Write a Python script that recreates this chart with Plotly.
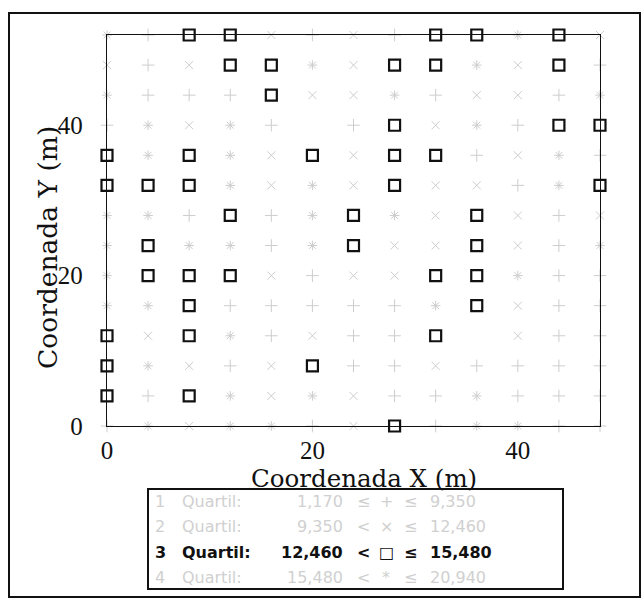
import plotly.graph_objects as go

# Sampling grid (m)
x_coords = [0, 4, 8, 12, 16, 20, 24, 28, 32, 36, 40, 44, 48]
y_coords = [52, 48, 44, 40, 36, 32, 28, 24, 20, 16, 12, 8, 4, 0]

# Quartile class of each sample, one row per y (north to south); 0 = no sample
quartile_rows = [
    [4, 1, 3, 3, 2, 1, 2, 1, 3, 3, 4, 3, 2],  # y = 52
    [2, 1, 2, 3, 3, 4, 2, 3, 3, 4, 2, 3, 1],  # y = 48
    [4, 1, 1, 1, 3, 2, 2, 4, 1, 2, 2, 1, 4],  # y = 44
    [1, 4, 2, 4, 1, 0, 1, 3, 2, 4, 1, 3, 3],  # y = 40
    [3, 4, 3, 4, 2, 3, 2, 3, 3, 1, 2, 4, 1],  # y = 36
    [3, 3, 3, 4, 2, 4, 2, 3, 2, 2, 1, 4, 3],  # y = 32
    [4, 4, 1, 3, 1, 4, 3, 4, 2, 3, 2, 1, 2],  # y = 28
    [4, 3, 4, 4, 1, 4, 3, 2, 2, 3, 2, 1, 4],  # y = 24
    [4, 3, 3, 3, 2, 1, 2, 2, 3, 3, 4, 1, 1],  # y = 20
    [4, 4, 3, 1, 1, 1, 1, 1, 4, 3, 2, 1, 1],  # y = 16
    [3, 2, 3, 4, 1, 2, 1, 1, 3, 0, 2, 1, 1],  # y = 12
    [3, 4, 2, 1, 2, 3, 1, 1, 2, 1, 1, 1, 1],  # y = 8
    [3, 1, 3, 4, 2, 4, 2, 1, 1, 4, 1, 1, 1],  # y = 4
    [1, 4, 2, 4, 4, 1, 2, 3, 1, 4, 4, 1, 1],  # y = 0
]

# Class limits and legend text
quartile_ids = [1, 2, 3, 4]
quartile_names = ["Quartil:", "Quartil:", "Quartil:", "Quartil:"]
lower_limits = ["1,170", "9,350", "12,460", "15,480"]
upper_limits = ["9,350", "12,460", "15,480", "20,940"]
lower_ops = ["\u2264", "<", "<", "<"]
legend_glyphs = ["+", "\u00d7", "\u25a1", "*"]

FAINT = "#cdcdcd"
symbols = {1: "cross-thin-open", 2: "x-thin-open", 3: "square-open", 4: "asterisk-open"}
colors = {1: FAINT, 2: FAINT, 3: "#111111", 4: FAINT}
sizes = {1: 9, 2: 8, 3: 11, 4: 8}
widths = {1: 1, 2: 1, 3: 2.2, 4: 1}

fig = go.Figure()
for q in quartile_ids:
    xs, ys = [], []
    for yi, row in zip(y_coords, quartile_rows):
        for xi, cls in zip(x_coords, row):
            if cls == q:
                xs.append(xi)
                ys.append(yi)
    fig.add_trace(go.Scatter(
        x=xs, y=ys, mode="markers", cliponaxis=False, showlegend=False,
        marker=dict(symbol=symbols[q], size=sizes[q], color=colors[q],
                    line=dict(color=colors[q], width=widths[q])),
    ))

W, H = 644, 599
L, R, T, B = 107, 600, 35, 426


def px(x):
    return (x - L) / (R - L)


def py(y):
    return (B - y) / (B - T)


tick_serif = "Liberation Serif, Times New Roman, serif"
title_serif = "DejaVu Serif, Liberation Serif, serif"
sans = "DejaVu Sans, Verdana, sans-serif"

axis_common = dict(
    showgrid=False, zeroline=False, showline=True, linecolor="#111111",
    linewidth=1.3, mirror=True, ticks="",
    tickfont=dict(family=tick_serif, size=25, color="#111111"),
)

fig.update_layout(
    width=W, height=H,
    margin=dict(l=L, r=W - R, t=T, b=H - B),
    paper_bgcolor="white", plot_bgcolor="white",
    xaxis=dict(range=[0, 48], tickvals=[0, 20, 40], ticklabelstandoff=2, **axis_common),
    yaxis=dict(range=[0, 52], tickvals=[0, 20, 40], ticklabelstandoff=18, **axis_common),
)

annotations = [
    dict(text="Coordenada X (m)", x=px(364), y=py(478), xref="paper", yref="paper",
         showarrow=False, font=dict(family=title_serif, size=24.5, color="#111111"),
         xanchor="center", yanchor="middle"),
    dict(text="Coordenada Y (m)", x=px(48), y=py(248), xref="paper", yref="paper",
         showarrow=False, textangle=-90, font=dict(family=title_serif, size=26.5, color="#111111"),
         xanchor="center", yanchor="middle"),
]

row_y = [501, 526, 552, 577]
for i, q in enumerate(quartile_ids):
    c = "#111111" if q == 3 else "#d0d0d0"
    f = dict(family=sans, size=16, color=c)
    yy = py(row_y[i])
    cells = [
        (str(q), 160, "center"),
        (quartile_names[i], 180, "left"),
        (lower_limits[i], 345, "right"),
        (lower_ops[i], 363, "center"),
        (legend_glyphs[i], 386, "center"),
        ("\u2264", 410, "center"),
        (upper_limits[i], 428, "left"),
    ]
    for txt, xp, anc in cells:
        annotations.append(dict(
            text=("<b>%s</b>" % txt) if q == 3 else txt,
            x=px(xp), y=yy, xref="paper", yref="paper", showarrow=False,
            font=f, xanchor=anc, yanchor="middle"))

fig.update_layout(annotations=annotations)

fig.update_layout(shapes=[
    # outer frame
    dict(type="rect", xref="paper", yref="paper", x0=px(9), x1=px(640), y0=py(597), y1=py(13),
         line=dict(color="#111111", width=2)),
    # legend box
    dict(type="rect", xref="paper", yref="paper", x0=px(148), x1=px(563), y0=py(589), y1=py(489),
         line=dict(color="#111111", width=2)),
])

fig.write_html("out.html")
